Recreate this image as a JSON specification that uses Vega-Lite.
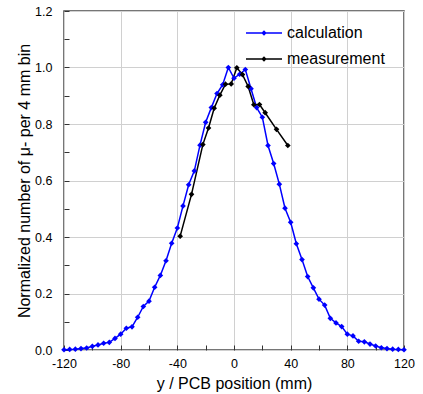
{
  "$schema": "https://vega.github.io/schema/vega-lite/v6.json",
  "autosize": {"type": "none"},
  "width": 340,
  "height": 339,
  "padding": {"left": 64, "top": 11, "right": 19, "bottom": 44},
  "background": "white",
  "config": {
    "font": "Liberation Sans",
    "view": {"stroke": "#4a4a4a", "strokeWidth": 1.5},
    "axis": {
      "domain": false,
      "gridColor": "#d0d0d0",
      "gridWidth": 1,
      "tickColor": "#333333",
      "labelFont": "Liberation Sans",
      "labelFontSize": 12.5,
      "labelColor": "#000000",
      "labelFlush": false,
      "labelOverlap": false,
      "titleFont": "Liberation Sans",
      "titleFontSize": 16,
      "titleFontWeight": "normal",
      "titleColor": "#000000"
    }
  },
  "data": {
    "values": [
      {"x": -120, "v": 0.001, "s": "calculation"},
      {"x": -116, "v": 0.002, "s": "calculation"},
      {"x": -112, "v": 0.003, "s": "calculation"},
      {"x": -108, "v": 0.005, "s": "calculation"},
      {"x": -104, "v": 0.007, "s": "calculation"},
      {"x": -100, "v": 0.013, "s": "calculation"},
      {"x": -96, "v": 0.018, "s": "calculation"},
      {"x": -92, "v": 0.024, "s": "calculation"},
      {"x": -88, "v": 0.027, "s": "calculation"},
      {"x": -84, "v": 0.041, "s": "calculation"},
      {"x": -80, "v": 0.056, "s": "calculation"},
      {"x": -76, "v": 0.077, "s": "calculation"},
      {"x": -72, "v": 0.082, "s": "calculation"},
      {"x": -68, "v": 0.116, "s": "calculation"},
      {"x": -64, "v": 0.154, "s": "calculation"},
      {"x": -60, "v": 0.173, "s": "calculation"},
      {"x": -56, "v": 0.222, "s": "calculation"},
      {"x": -52, "v": 0.264, "s": "calculation"},
      {"x": -48, "v": 0.316, "s": "calculation"},
      {"x": -44, "v": 0.378, "s": "calculation"},
      {"x": -40, "v": 0.432, "s": "calculation"},
      {"x": -36, "v": 0.510, "s": "calculation"},
      {"x": -32, "v": 0.585, "s": "calculation"},
      {"x": -28, "v": 0.634, "s": "calculation"},
      {"x": -24, "v": 0.725, "s": "calculation"},
      {"x": -20, "v": 0.806, "s": "calculation"},
      {"x": -16, "v": 0.858, "s": "calculation"},
      {"x": -12, "v": 0.908, "s": "calculation"},
      {"x": -8, "v": 0.939, "s": "calculation"},
      {"x": -4, "v": 1.0, "s": "calculation"},
      {"x": 0, "v": 0.962, "s": "calculation"},
      {"x": 4, "v": 0.976, "s": "calculation"},
      {"x": 8, "v": 0.993, "s": "calculation"},
      {"x": 12, "v": 0.925, "s": "calculation"},
      {"x": 16, "v": 0.858, "s": "calculation"},
      {"x": 20, "v": 0.824, "s": "calculation"},
      {"x": 24, "v": 0.724, "s": "calculation"},
      {"x": 28, "v": 0.660, "s": "calculation"},
      {"x": 32, "v": 0.587, "s": "calculation"},
      {"x": 36, "v": 0.502, "s": "calculation"},
      {"x": 40, "v": 0.452, "s": "calculation"},
      {"x": 44, "v": 0.376, "s": "calculation"},
      {"x": 48, "v": 0.320, "s": "calculation"},
      {"x": 52, "v": 0.260, "s": "calculation"},
      {"x": 56, "v": 0.220, "s": "calculation"},
      {"x": 60, "v": 0.180, "s": "calculation"},
      {"x": 64, "v": 0.159, "s": "calculation"},
      {"x": 68, "v": 0.112, "s": "calculation"},
      {"x": 72, "v": 0.096, "s": "calculation"},
      {"x": 76, "v": 0.083, "s": "calculation"},
      {"x": 80, "v": 0.056, "s": "calculation"},
      {"x": 84, "v": 0.050, "s": "calculation"},
      {"x": 88, "v": 0.031, "s": "calculation"},
      {"x": 92, "v": 0.029, "s": "calculation"},
      {"x": 96, "v": 0.021, "s": "calculation"},
      {"x": 100, "v": 0.014, "s": "calculation"},
      {"x": 104, "v": 0.008, "s": "calculation"},
      {"x": 108, "v": 0.005, "s": "calculation"},
      {"x": 112, "v": 0.003, "s": "calculation"},
      {"x": 116, "v": 0.002, "s": "calculation"},
      {"x": 120, "v": 0.001, "s": "calculation"},
      {"x": -38, "v": 0.403, "s": "measurement"},
      {"x": -30, "v": 0.551, "s": "measurement"},
      {"x": -22, "v": 0.727, "s": "measurement"},
      {"x": -18, "v": 0.786, "s": "measurement"},
      {"x": -14, "v": 0.856, "s": "measurement"},
      {"x": -10, "v": 0.902, "s": "measurement"},
      {"x": -6, "v": 0.941, "s": "measurement"},
      {"x": -2, "v": 0.942, "s": "measurement"},
      {"x": 2, "v": 0.999, "s": "measurement"},
      {"x": 6, "v": 0.975, "s": "measurement"},
      {"x": 10, "v": 0.933, "s": "measurement"},
      {"x": 14, "v": 0.868, "s": "measurement"},
      {"x": 18, "v": 0.869, "s": "measurement"},
      {"x": 22, "v": 0.840, "s": "measurement"},
      {"x": 30, "v": 0.781, "s": "measurement"},
      {"x": 38, "v": 0.724, "s": "measurement"}
    ]
  },
  "mark": {"type": "line", "strokeWidth": 1.5, "point": {"shape": "diamond", "size": 32, "filled": true}},
  "encoding": {
    "x": {
      "field": "x", "type": "quantitative",
      "scale": {"domain": [-120, 120], "nice": false, "zero": false},
      "title": "y / PCB position (mm)",
      "axis": {
        "values": [-120, -100, -80, -60, -40, -20, 0, 20, 40, 60, 80, 100, 120],
        "labelExpr": "datum.value % 40 == 0 ? '' + datum.value : ''",
        "tickSize": -5,
        "labelPadding": 12,
        "titlePadding": 6,
        "gridOpacity": {"condition": {"test": "datum.value % 40 == 0", "value": 1}, "value": 0}
      }
    },
    "y": {
      "field": "v", "type": "quantitative",
      "scale": {"domain": [0, 1.2], "nice": false},
      "title": "Normalized number of μ- per 4 mm bin",
      "axis": {
        "values": [0, 0.1, 0.2, 0.3, 0.4, 0.5, 0.6, 0.7, 0.8, 0.9, 1.0, 1.1, 1.2],
        "labelExpr": "round(datum.value*10) % 2 == 0 ? format(datum.value, '.1f') : ''",
        "tickSize": -5,
        "labelPadding": 17,
        "titlePadding": 2,
        "gridOpacity": {"condition": {"test": "round(datum.value*10) % 2 == 0", "value": 1}, "value": 0}
      }
    },
    "color": {
      "field": "s", "type": "nominal",
      "scale": {"domain": ["calculation", "measurement"], "range": ["#0000ff", "#000000"]},
      "legend": {
        "title": null,
        "orient": "none",
        "legendX": 182,
        "legendY": 4,
        "padding": 0,
        "symbolType": "M-1,-0.04H1V0.04H-1Z M-0.15,0L0,-0.15L0.15,0L0,0.15Z",
        "symbolSize": 1296,
        "symbolStrokeWidth": 0,
        "labelFontSize": 16,
        "labelFont": "Liberation Sans",
        "labelColor": "#000000",
        "labelOffset": 5,
        "rowPadding": -16,
        "encode": {"symbols": {"update": {"fill": {"scale": "color", "field": "value"}, "opacity": {"value": 1}}}}
      }
    }
  }
}
